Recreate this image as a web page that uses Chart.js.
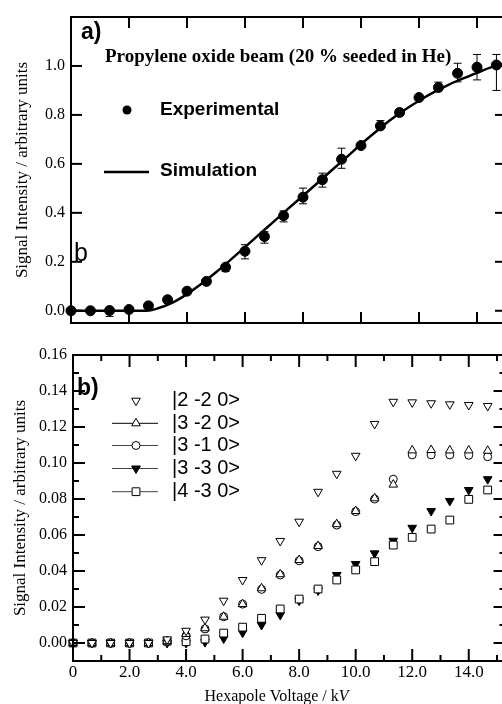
<!DOCTYPE html>
<html><head><meta charset="utf-8">
<script src="https://cdn.jsdelivr.net/npm/chart.js@4/dist/chart.umd.min.js"></script>
<style>
html,body{margin:0;padding:0;background:#fff;overflow:hidden;width:502px;height:704px;position:relative;}
#a{position:absolute;left:0;top:0;}
#b{position:absolute;left:0;top:330px;}
</style></head><body>
<canvas id="a" width="512" height="330"></canvas>
<canvas id="b" width="512" height="380"></canvas>
<script>
// ---------- data ----------
const voltages = [0,0.67,1.33,2,2.67,3.33,4,4.67,5.33,6,6.67,7.33,8,8.67,9.33,10,10.67,11.33,12,12.67,13.33,14,14.67];
// panel a
const expSignal  = [0,0,0.001,0.005,0.02,0.045,0.08,0.12,0.178,0.243,0.303,0.388,0.464,0.535,0.619,0.675,0.755,0.81,0.871,0.912,0.97,0.995,1.004];
const expErrUp   = [0,0,0.012,0,0,0,0,0,0.01,0.027,0.02,0.02,0.037,0.027,0.045,0.01,0.022,0,0.01,0.022,0.041,0.052,0.043];
const expErrDown = [0,0,0.024,0,0,0,0,0,0.018,0.031,0.027,0.025,0.027,0.03,0.037,0.01,0.01,0,0.01,0.01,0.035,0.052,0.104];
const simVoltages = [0,1,2,2.6,3.0,3.5,4.0,4.5,5.0,5.5,6.0,6.5,7.0,7.5,8.0,8.5,9.0,9.5,10.0,10.5,11.0,11.5,12.0,12.5,13.0,13.5,14.0,14.5,15.0];
const simSignal   = [0,0,0,0,0.01,0.033,0.068,0.11,0.157,0.208,0.26,0.313,0.365,0.418,0.47,0.522,0.575,0.627,0.68,0.73,0.778,0.82,0.858,0.892,0.922,0.948,0.972,0.995,1.012];
const aYTicks = [0,0.2,0.4,0.6,0.8,1.0];
const aYLabels = ['0.0','0.2','0.4','0.6','0.8','1.0'];
const aXTicks = [0,2,4,6,8,10,12,14];
// panel b
const state220 = [0,0,0,0,0,0.002,0.0068,0.013,0.0235,0.035,0.046,0.0567,0.0674,0.084,0.094,0.104,0.1217,0.134,0.1337,0.1332,0.1326,0.1322,0.1317];
const state320 = [0,0,0,0,0,0.001,0.005,0.0082,0.0146,0.0216,0.0304,0.0382,0.0461,0.0539,0.066,0.0733,0.0804,0.088,0.107,0.1072,0.107,0.107,0.1068];
const state310 = [0,0,0,0,0,0.001,0.004,0.0078,0.0146,0.0216,0.0298,0.0378,0.0457,0.0535,0.0655,0.073,0.08,0.091,0.1045,0.1045,0.1045,0.1043,0.1035];
const state330 = [0,0,0,0,0,0,0,0.0005,0.0025,0.0057,0.01,0.0156,0.0235,0.0292,0.0378,0.0439,0.0498,0.0568,0.064,0.0733,0.0789,0.085,0.091];
const state430 = [0,0,0,0,0,0.001,0.0007,0.0022,0.0055,0.0088,0.0137,0.0189,0.0244,0.03,0.035,0.0406,0.0452,0.0544,0.0587,0.0633,0.0683,0.0798,0.085];
const stateNames = ['|2 -2 0>','|3 -2 0>','|3 -1 0>','|3 -3 0>','|4 -3 0>'];
const bYTicks = [0,0.02,0.04,0.06,0.08,0.10,0.12,0.14,0.16];
const bYLabels = ['0.00','0.02','0.04','0.06','0.08','0.10','0.12','0.14','0.16'];
const bYMinor = [0.01,0.03,0.05,0.07,0.09,0.11,0.13,0.15];
const bXTicks = [0,2,4,6,8,10,12,14];
const bXLabels = ['0','2.0','4.0','6.0','8.0','10.0','12.0','14.0'];
const bXMinor = [1,3,5,7,9,11,13,15];

const SERIF = '"Liberation Serif", "Times New Roman", serif';
const SANS = '"Liberation Sans", Arial, sans-serif';

function pts(xs, ys){ return xs.map((x,i)=>({x:x, y:ys[i]})); }
function noPad(s){ s.paddingTop=0; s.paddingBottom=0; s.paddingLeft=0; s.paddingRight=0; }

function framePlugin(cfg){
  return {
    id:'frame',
    afterDatasetsDraw(chart){
      const {ctx, chartArea:{left,right,top,bottom}, scales:{x,y}} = chart;
      ctx.save();
      ctx.strokeStyle='#000';
      ctx.lineWidth=2;
      const seg=(x1,y1,x2,y2)=>{ctx.beginPath();ctx.moveTo(x1,y1);ctx.lineTo(x2,y2);ctx.stroke();};
      cfg.xMajor.forEach(v=>{const p=x.getPixelForValue(v); seg(p,top,p,top+cfg.maj); seg(p,bottom,p,bottom-cfg.maj);});
      (cfg.xMinor||[]).forEach(v=>{const p=x.getPixelForValue(v); seg(p,top,p,top+cfg.min); seg(p,bottom,p,bottom-cfg.min);});
      cfg.yMajor.forEach(v=>{const p=y.getPixelForValue(v); seg(left,p,left+cfg.maj,p); seg(right,p,right-cfg.maj,p);});
      (cfg.yMinor||[]).forEach(v=>{const p=y.getPixelForValue(v); seg(left,p,left+cfg.min,p); seg(right,p,right-cfg.min,p);});
      ctx.lineWidth=2;
      ctx.strokeRect(left,top,right-left,bottom-top);
      ctx.restore();
    }
  };
}

// ---------- panel a ----------
const errPlugin = {
  id:'err',
  beforeDatasetsDraw(chart){
    const {ctx, scales:{x,y}} = chart;
    ctx.save(); ctx.strokeStyle='#000'; ctx.lineWidth=1;
    voltages.forEach((v,i)=>{
      if(!expErrUp[i] && !expErrDown[i]) return;
      const px=x.getPixelForValue(v);
      const pu=y.getPixelForValue(expSignal[i]+expErrUp[i]);
      const pd=y.getPixelForValue(expSignal[i]-expErrDown[i]);
      ctx.beginPath();
      ctx.moveTo(px,pu);ctx.lineTo(px,pd);
      ctx.moveTo(px-4,pu);ctx.lineTo(px+4,pu);
      ctx.moveTo(px-4,pd);ctx.lineTo(px+4,pd);
      ctx.stroke();
    });
    ctx.restore();
  }
};
const textA = {
  id:'textA',
  afterDraw(chart){
    const ctx=chart.ctx; ctx.save(); ctx.fillStyle='#000'; ctx.textBaseline='middle'; ctx.textAlign='left';
    ctx.font='bold 23px '+SANS; ctx.fillText('a)',81,33);
    ctx.font='bold 19px '+SERIF; ctx.fillText('Propylene oxide beam (20 % seeded in He)',105,57);
    ctx.font='bold 19px '+SANS; ctx.fillText('Experimental',160,110); ctx.fillText('Simulation',160,171);
    ctx.beginPath(); ctx.arc(127,110,4.5,0,Math.PI*2); ctx.fill();
    ctx.lineWidth=2.5; ctx.beginPath(); ctx.moveTo(104,172); ctx.lineTo(149,172); ctx.stroke();
    ctx.textBaseline='alphabetic'; ctx.font='25px '+SANS; ctx.fillText('b',74,261);
    ctx.restore();
  }
};
new Chart(document.getElementById('a'), {
  type:'scatter',
  data:{datasets:[
    {data:pts(voltages,expSignal), pointStyle:'circle', pointRadius:5, backgroundColor:'#000', borderColor:'#000', showLine:false, clip:false, order:1},
    {data:pts(simVoltages,simSignal), showLine:true, pointRadius:0, borderColor:'#000', borderWidth:2.5, cubicInterpolationMode:'monotone', clip:false, order:2}
  ]},
  options:{
    responsive:false, animation:false, devicePixelRatio:1,
    layout:{padding:{top:17,right:5,left:0,bottom:0}},
    plugins:{legend:{display:false}, tooltip:{enabled:false}},
    scales:{
      x:{type:'linear', min:0, max:15, grid:{display:false, drawTicks:false}, border:{display:false},
         ticks:{display:false}, afterFit:s=>{s.height=7; noPad(s);}},
      y:{type:'linear', min:-0.05, max:1.2, grid:{display:false, drawTicks:false}, border:{display:false},
         afterBuildTicks:s=>{s.ticks=aYTicks.map(v=>({value:v}));},
         ticks:{color:'#000', padding:6, font:{family:SERIF, size:16}, callback:(v,i)=>aYLabels[i]},
         title:{display:true, text:'Signal Intensity / arbitrary units', color:'#000', font:{family:SERIF, size:17}, padding:{top:12}},
         afterFit:s=>{s.width=71; noPad(s);}}
    }
  },
  plugins:[errPlugin, framePlugin({xMajor:aXTicks, yMajor:aYTicks, maj:11, min:6}), textA]
});

// ---------- panel b ----------
const styles = [
  {pointStyle:'triangle', rotation:180, r:5, fill:'#fff', line:false, order:1},
  {pointStyle:'triangle', rotation:0,   r:5, fill:'#fff', line:true, order:2},
  {pointStyle:'circle',   rotation:0,   r:4, fill:'#fff', line:true, order:3},
  {pointStyle:'triangle', rotation:180, r:5, fill:'#000', line:true, order:5},
  {pointStyle:'rect',     rotation:0,   r:5.5, fill:'#fff', line:true, order:4}
];
const seriesB = [state220,state320,state310,state330,state430];
const textB = {
  id:'textB',
  afterDraw(chart){
    const ctx=chart.ctx; ctx.save(); ctx.fillStyle='#000'; ctx.textBaseline='middle'; ctx.textAlign='left';
    ctx.font='bold 23px '+SANS; ctx.fillText('b)',77,59);
    const rows=[70.7,93.3,115.5,138.5,161.7];
    stateNames.forEach((n,i)=>{
      const st=styles[i];
      if(st.line){ctx.strokeStyle=i>=2?'#444':'#000'; ctx.lineWidth=1; ctx.beginPath(); ctx.moveTo(112,rows[i]); ctx.lineTo(158,rows[i]); ctx.stroke();}
      ctx.fillStyle=st.fill; ctx.strokeStyle='#000'; ctx.lineWidth=1;
      Chart.helpers.drawPoint(ctx,{pointStyle:st.pointStyle, radius:st.r, rotation:st.rotation, borderWidth:1},136,rows[i]);
      ctx.fillStyle='#000'; ctx.font='20px '+SANS; ctx.fillText(n,172,rows[i]);
    });
    // x axis title
    const xs=chart.scales.x; const cx=xs.getPixelForValue(7.2);
    const t1='Hexapole Voltage / k'; ctx.font='16px '+SERIF; const w1=ctx.measureText(t1).width;
    ctx.font='italic 16px '+SERIF; const w2=ctx.measureText('V').width;
    const x0=cx-(w1+w2)/2;
    ctx.font='16px '+SERIF; ctx.fillText(t1,x0,367);
    ctx.font='italic 16px '+SERIF; ctx.fillText('V',x0+w1,367);
    ctx.restore();
  }
};
new Chart(document.getElementById('b'), {
  type:'scatter',
  data:{datasets:seriesB.map((s,i)=>({
    data:pts(voltages,s), showLine:false, clip:false, order:styles[i].order,
    pointStyle:styles[i].pointStyle, rotation:styles[i].rotation, pointRadius:styles[i].r,
    backgroundColor:styles[i].fill, borderColor:'#000', borderWidth:1
  }))},
  options:{
    responsive:false, animation:false, devicePixelRatio:1,
    layout:{padding:{top:25,right:4,left:0,bottom:0}},
    plugins:{legend:{display:false}, tooltip:{enabled:false}},
    scales:{
      x:{type:'linear', min:0, max:15.3, grid:{display:false, drawTicks:false}, border:{display:false},
         afterBuildTicks:s=>{s.ticks=bXTicks.map(v=>({value:v}));},
         ticks:{color:'#000', padding:1, maxRotation:0, autoSkip:false, font:{family:SERIF, size:17}, callback:(v,i)=>bXLabels[i]},
         afterFit:s=>{s.height=49; noPad(s);}},
      y:{type:'linear', min:-0.01, max:0.16, grid:{display:false, drawTicks:false}, border:{display:false},
         afterBuildTicks:s=>{s.ticks=bYTicks.map(v=>({value:v}));},
         ticks:{color:'#000', padding:6, autoSkip:false, font:{family:SERIF, size:16}, callback:(v,i)=>bYLabels[i]},
         title:{display:true, text:'Signal Intensity / arbitrary units', color:'#000', font:{family:SERIF, size:17}, padding:{top:10}},
         afterFit:s=>{s.width=73; noPad(s);}}
    }
  },
  plugins:[framePlugin({xMajor:bXTicks, xMinor:bXMinor, yMajor:bYTicks, yMinor:bYMinor, maj:12, min:6}), textB]
});
</script>
</body></html>
